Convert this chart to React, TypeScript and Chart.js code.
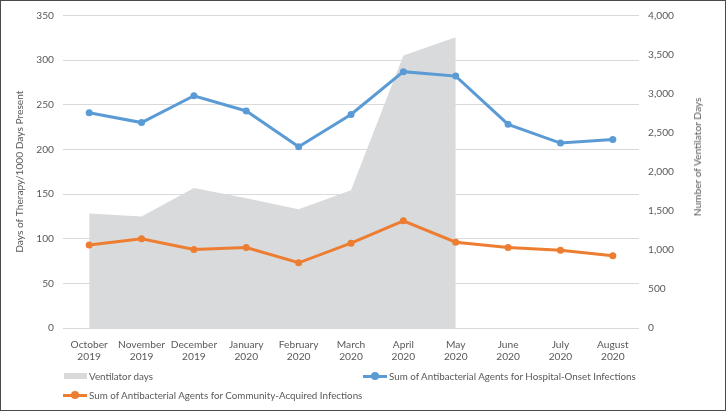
import React, { useEffect, useRef } from 'react';
import { Chart, registerables } from 'chart.js';
Chart.register(...registerables);

const categories: string[][] = [
  ['October', '2019'], ['November', '2019'], ['December', '2019'], ['January', '2020'],
  ['February', '2020'], ['March', '2020'], ['April', '2020'], ['May', '2020'],
  ['June', '2020'], ['July', '2020'], ['August', '2020'],
];
const ventilatorDays: (number | null)[] = [1464, 1426, 1790, 1660, 1520, 1761, 3488, 3721, null, null, null];
const hospitalOnset = [241, 230, 260, 243, 203, 239, 287, 282, 228, 207, 211];
const communityAcquired = [93, 100, 88, 90, 73, 95, 120, 96, 90, 87, 81];

const leftAxisTitle = 'Days of Therapy/1000 Days Present';
const rightAxisTitle = 'Number of Ventilator Days';
const seriesNames = [
  'Ventilator days',
  'Sum of Antibacterial Agents for Hospital-Onset Infections',
  'Sum of Antibacterial Agents for Community-Acquired Infections',
];

const FONT = 'Lato, "Open Sans", sans-serif';
const FS = 10.2;
const LFS = 9.8;
const TXT = '#595959';
const GRAY = '#d9dadc';
const BLUE = '#5b9bd5';
const ORANGE = '#ed7d31';

export default function App() {
  const ref = useRef<HTMLCanvasElement | null>(null);
  useEffect(() => {
    if (!ref.current) return;
    const font = { family: FONT, size: FS, lineHeight: 1.25 };
    const chart = new Chart(ref.current, {
      type: 'line',
      data: {
        labels: categories,
        datasets: [
          {
            label: seriesNames[0], data: ventilatorDays, yAxisID: 'y1', fill: 'origin',
            backgroundColor: GRAY, borderWidth: 0, pointRadius: 0, tension: 0, order: 3, spanGaps: false,
          },
          {
            label: seriesNames[1], data: hospitalOnset, yAxisID: 'y', borderColor: BLUE, backgroundColor: BLUE,
            borderWidth: 3, pointRadius: 3.5, pointBackgroundColor: BLUE, pointBorderWidth: 0, tension: 0, order: 2,
          },
          {
            label: seriesNames[2], data: communityAcquired, yAxisID: 'y', borderColor: ORANGE, backgroundColor: ORANGE,
            borderWidth: 3, pointRadius: 3.5, pointBackgroundColor: ORANGE, pointBorderWidth: 0, tension: 0, order: 1,
          },
        ],
      },
      options: {
        animation: false,
        responsive: false,
        maintainAspectRatio: false,
        layout: { padding: { top: 13, bottom: 43, left: 0, right: 0 } },
        plugins: { legend: { display: false }, tooltip: { enabled: false } },
        scales: {
          x: {
            offset: true,
            grid: { display: false },
            border: { display: false },
            ticks: { color: TXT, font, maxRotation: 0, autoSkip: false, padding: 2 },
            afterFit: (s: any) => { s.height = 40; },
          },
          y: {
            position: 'left', min: 0, max: 350,
            ticks: { stepSize: 50, color: TXT, font, padding: 9 },
            grid: { color: '#d9d9d9', drawTicks: false, lineWidth: 1 },
            border: { display: false },
            title: { display: true, text: leftAxisTitle, color: TXT, font, padding: { top: 13, bottom: 0 } },
            afterFit: (s: any) => { s.width = 63; },
          },
          y1: {
            position: 'right', min: 0, max: 4000,
            ticks: { stepSize: 500, color: TXT, font, padding: 9, callback: (v: any) => Number(v).toLocaleString('en-US') },
            grid: { display: false, drawTicks: false },
            border: { display: false },
            afterFit: (s: any) => { s.width = 87; },
          },
        },
      } as any,
    });
    return () => chart.destroy();
  }, []);

  const legendText: React.CSSProperties = {
    position: 'absolute', fontFamily: FONT, fontSize: LFS, color: TXT, whiteSpace: 'nowrap', lineHeight: '14px',
  };

  return (
    <div style={{ position: 'fixed', left: 0, top: 0, width: 726, height: 411, background: '#fff' }}>
      <canvas ref={ref} width={726} height={411} style={{ position: 'absolute', left: 0, top: 0, width: 726, height: 411 }} />
      <div style={{ ...legendText, fontSize: FS, left: 697, top: 157, transform: 'translate(-50%, -50%) rotate(-90deg)' }}>{rightAxisTitle}</div>
      {/* legend row 1 */}
      <div style={{ position: 'absolute', left: 64, top: 373, width: 23, height: 6, background: GRAY }} />
      <div style={{ ...legendText, left: 89, top: 369 }}>{seriesNames[0]}</div>
      <div style={{ position: 'absolute', left: 363, top: 375, width: 24, height: 3, background: BLUE }} />
      <div style={{ position: 'absolute', left: 371, top: 372, width: 8, height: 8, borderRadius: 4, background: BLUE }} />
      <div style={{ ...legendText, left: 389, top: 369 }}>{seriesNames[1]}</div>
      {/* legend row 2 */}
      <div style={{ position: 'absolute', left: 63, top: 394, width: 24, height: 3, background: ORANGE }} />
      <div style={{ position: 'absolute', left: 71, top: 391, width: 8, height: 8, borderRadius: 4, background: ORANGE }} />
      <div style={{ ...legendText, left: 89, top: 388 }}>{seriesNames[2]}</div>
      <div style={{ position: 'absolute', left: 0, top: 0, width: 726, height: 411, boxSizing: 'border-box', border: '1px solid #4a4a4a', pointerEvents: 'none' }} />
    </div>
  );
}
